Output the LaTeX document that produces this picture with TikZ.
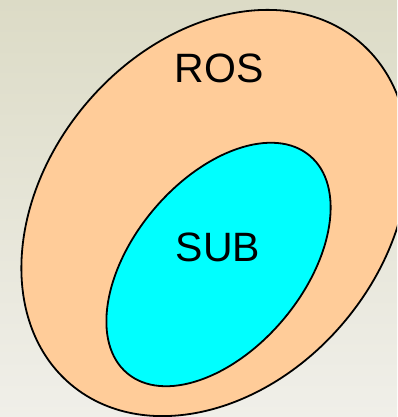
\documentclass[tikz,border=0pt]{standalone}
\usepackage{fontspec}
\setmainfont{Liberation Sans}
\usetikzlibrary{shapes.geometric}
\definecolor{peach}{HTML}{FFCC99}
\definecolor{aqua}{HTML}{00FFFF}
\definecolor{paneltop}{HTML}{DCDBC6}
\definecolor{panelbottom}{HTML}{F0EFE9}
\begin{document}
\begin{tikzpicture}[x=1pt,y=1pt,
  blob/.style={ellipse, draw=black, line width=1.8pt, inner sep=0pt, rotate=50},
  setname/.style={font=\fontsize{41}{47}\selectfont, text=black}]
\shade[top color=paneltop, bottom color=panelbottom] (0,0) rectangle (397,417);
\useasboundingbox (0,0) rectangle (397,417);
\clip (0,0) rectangle (397,417);
\node[blob, fill=peach, minimum width=448pt, minimum height=338pt] (ros) at (215,204) {};
\node[blob, fill=aqua, minimum width=284pt, minimum height=170pt] (sub) at (218.5,152.5) {};
\node[setname] (roslabel) at (219,349) {ROS};
\node[setname] (sublabel) at (218,170) {SUB};
\end{tikzpicture}
\end{document}
